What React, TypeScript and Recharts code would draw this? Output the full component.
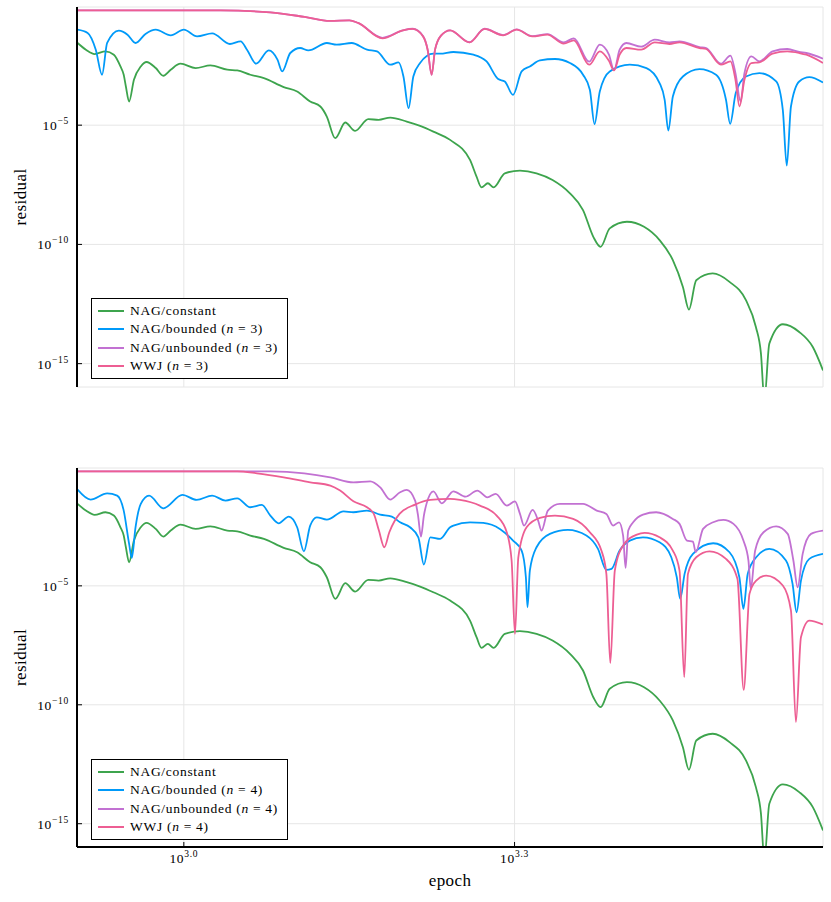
import React from "react";
import { CartesianGrid, Line, LineChart, XAxis, YAxis } from "recharts";

const SERIF = "'Liberation Serif', 'DejaVu Serif', serif";

const GREEN = "#3da44d";
const BLUE = "#009af9";
const PURPLE = "#c271d2";
const PINK = "#ed5e93";

const epochDomain: [number, number] = [800, 3800];
const residualDomain: [number, number] = [1.05e-16, 0.9];
const epochTicks = [1000, 1995.26];
const residualTicks = [1e-15, 1e-10, 1e-5];

// NAG/constant (same run in both panels)
const constantEpoch = [
  801, 815, 830, 849, 864, 876, 882, 886, 892, 901, 914, 925, 943, 958, 973, 993,
  1025, 1057, 1095, 1118, 1149, 1182, 1232, 1267, 1302, 1330, 1348, 1372, 1401,
  1430, 1470, 1502, 1539, 1593, 1638, 1684, 1744, 1818, 1843, 1862, 1887, 1910,
  1955, 2018, 2089, 2160, 2240, 2302, 2352, 2388, 2434, 2523, 2615, 2701, 2777,
  2836, 2872, 2916, 3018, 3126, 3235, 3303, 3338, 3362, 3397, 3494, 3616, 3720, 3800,
];
const constantResidual = [
  0.0279, 0.0146, 9.6e-3, 0.0124, 9.0e-3, 2.9e-3, 1.3e-3, 4.19e-4, 9.8e-5, 8.0e-4,
  2.9e-3, 4.44e-3, 2.48e-3, 1.18e-3, 2.11e-3, 3.77e-3, 2.48e-3, 3.19e-3, 2.11e-3,
  1.97e-3, 1.3e-3, 9.4e-4, 3.95e-4, 2.58e-4, 9.8e-5, 6.05e-5, 2.3e-5, 2.84e-6,
  1.29e-5, 5.77e-6, 1.79e-5, 1.67e-5, 2.08e-5, 1.42e-5, 9.35e-6, 5.38e-6, 2.41e-6,
  3.48e-7, 6.92e-8, 2.48e-8, 3.66e-8, 2.48e-8, 9.6e-8, 1.24e-7, 9.6e-8, 5.03e-8,
  1.39e-8, 2.76e-9, 2.08e-10, 7.92e-11, 4.7e-10, 8.9e-10, 5.48e-10, 1.52e-10,
  2.19e-11, 1.65e-12, 1.86e-13, 3.16e-12, 6.05e-12, 2.69e-12, 4.57e-13, 3.45e-14,
  2.71e-15, 3e-17, 6.92e-15, 4.48e-14, 2.13e-14, 4.98e-15, 5.22e-16,
];

// n = 3
const bounded3Epoch = [
  801, 818, 832, 843, 852, 873, 889, 904, 923, 943, 973, 1000, 1028, 1061, 1101,
  1126, 1141, 1163, 1194, 1216, 1228, 1249, 1275, 1297, 1348, 1376, 1420, 1466,
  1497, 1539, 1566, 1582, 1599, 1615, 1638, 1684, 1708, 1756, 1831, 1882, 1928,
  1955, 1989, 2025, 2060, 2104, 2171, 2240, 2302, 2335, 2358, 2384, 2434, 2538,
  2628, 2701, 2730, 2751, 2777, 2836, 2936, 3039, 3103, 3130, 3167, 3235, 3327,
  3446, 3494, 3523, 3554, 3616, 3693, 3800,
];
const bounded3Residual = [
  0.101, 0.0735, 0.0146, 1.3e-3, 0.0279, 0.0916, 0.0622, 0.0279, 0.0667, 0.101,
  0.0582, 0.101, 0.0528, 0.0706, 0.0253, 0.0326, 0.0146, 3.77e-3, 0.0136, 5.55e-3,
  1.79e-3, 0.0106, 0.0172, 0.0136, 0.0279, 0.0237, 0.0279, 0.0146, 0.0124, 3.42e-3,
  4.27e-3, 1.1e-3, 5.18e-5, 1.1e-3, 4.03e-3, 9.9e-3, 9.9e-3, 0.0117, 9.0e-3, 4.7e-3,
  8.57e-4, 6.79e-4, 1.87e-4, 1.79e-3, 2.9e-3, 5.18e-3, 5.93e-3, 4.03e-3, 1.3e-3,
  3.04e-4, 1.1e-5, 2.58e-4, 1.79e-3, 3.42e-3, 2.48e-3, 5.82e-4, 1.16e-4, 5.93e-6,
  1.59e-4, 1.1e-3, 2.25e-3, 1.3e-3, 1.16e-4, 1.14e-5, 2.21e-4, 1.1e-3, 1.53e-3,
  6.79e-4, 4.4e-5, 2.01e-7, 6.05e-5, 6.79e-4, 1.04e-3, 6.17e-4,
];

const unbounded3Epoch = [
  801, 933, 1080, 1198, 1287, 1357, 1413, 1439, 1514, 1580, 1613, 1648, 1664, 1678,
  1690, 1711, 1744, 1816, 1874, 1948, 2004, 2070, 2137, 2211, 2258, 2332, 2384,
  2430, 2456, 2485, 2520, 2599, 2674, 2758, 2816, 2936, 2977, 3070, 3132, 3165,
  3199, 3225, 3272, 3327, 3420, 3527, 3616, 3670, 3800,
];
const unbounded3Residual = [
  0.65, 0.65, 0.647, 0.538, 0.345, 0.234, 0.248, 0.193, 0.046, 0.0944, 0.11, 0.055,
  0.0146, 1.3e-3, 0.0146, 0.0565, 0.0944, 0.03, 0.11, 0.06, 0.104, 0.054, 0.066,
  0.0296, 0.0436, 4.57e-3, 0.0237, 9.0e-3, 1.97e-3, 0.0146, 0.0279, 0.0195, 0.0384,
  0.0296, 0.0326, 0.0189, 0.017, 3.77e-3, 8.17e-3, 1.5e-3, 9.8e-5, 1.5e-3, 7.62e-3,
  4.7e-3, 0.0124, 0.0156, 0.0117, 0.0106, 6.11e-3,
];

const wwj3Epoch = [
  801, 933, 1080, 1198, 1287, 1357, 1413, 1439, 1514, 1580, 1613, 1648, 1664, 1678,
  1690, 1711, 1744, 1816, 1874, 1948, 2004, 2070, 2137, 2211, 2258, 2332, 2384,
  2430, 2456, 2485, 2520, 2599, 2674, 2758, 2816, 2936, 2977, 3070, 3132, 3165,
  3192, 3225, 3272, 3327, 3420, 3527, 3616, 3670, 3800,
];
const wwj3Residual = [
  0.65, 0.65, 0.647, 0.538, 0.345, 0.234, 0.248, 0.193, 0.0436, 0.0944, 0.108,
  0.0528, 0.0146, 1.3e-3, 0.0146, 0.0565, 0.0944, 0.0296, 0.108, 0.0582, 0.101,
  0.0528, 0.0622, 0.0261, 0.0359, 3.42e-3, 0.0124, 5.0e-3, 1.97e-3, 9.0e-3, 0.0172,
  0.0146, 0.0296, 0.0253, 0.0296, 0.0172, 0.0156, 3.42e-3, 4.7e-3, 8.0e-4, 6.05e-5,
  8.0e-4, 4.03e-3, 4.27e-3, 9.9e-3, 0.0124, 0.0106, 9.0e-3, 4.03e-3,
];

// n = 4
const bounded4Epoch = [
  801, 823, 852, 870, 882, 892, 897, 904, 914, 930, 958, 997, 1027, 1061, 1091,
  1118, 1149, 1177, 1198, 1219, 1245, 1267, 1285, 1302, 1320, 1348, 1396, 1425,
  1466, 1507, 1544, 1571, 1604, 1632, 1651, 1673, 1708, 1744, 1756, 1818, 1869,
  1935, 1989, 2025, 2043, 2050, 2060, 2089, 2148, 2230, 2318, 2375, 2417, 2443,
  2485, 2538, 2609, 2701, 2768, 2800, 2820, 2846, 2896, 3021, 3126, 3191, 3218,
  3247, 3305, 3397, 3517, 3566, 3596, 3629, 3693, 3800,
];
const bounded4Residual = [
  0.111, 0.0423, 0.0778, 0.0622, 0.0146, 5.82e-4, 1.5e-4, 2.9e-3, 0.0279, 0.0622,
  0.0182, 0.0667, 0.041, 0.0622, 0.0384, 0.048, 0.0201, 0.0253, 9.0e-3, 4.27e-3,
  8.17e-3, 2.9e-3, 2.84e-4, 3.42e-3, 7.62e-3, 6.11e-3, 0.0136, 0.0124, 0.0146,
  9.9e-3, 8.17e-3, 4.7e-3, 2.9e-3, 1.1e-3, 7.85e-5, 1.1e-3, 9.4e-4, 2.9e-3, 3.42e-3,
  4.7e-3, 4.44e-3, 2.48e-3, 8.0e-4, 3.04e-4, 2.3e-5, 1.26e-6, 4.4e-5, 4.19e-4,
  1.53e-3, 2.25e-3, 1.3e-3, 3.59e-4, 4.7e-5, 5.18e-5, 3.04e-4, 8.0e-4, 1.1e-3,
  6.79e-4, 1.59e-4, 2.3e-5, 2.84e-6, 3.19e-5, 2.21e-4, 6.17e-4, 2.58e-4, 2.3e-5,
  1.08e-6, 3.19e-5, 1.59e-4, 3.59e-4, 1.16e-4, 1.21e-5, 7.78e-7, 1.67e-5, 1.36e-4,
  2.21e-4,
];

const unbounded4Epoch = [
  801, 1198, 1286, 1358, 1425, 1476, 1507, 1539, 1571, 1593, 1621, 1631, 1641, 1651,
  1660, 1684, 1714, 1756, 1801, 1846, 1885, 1918, 1963, 1997, 2018, 2035, 2072,
  2096, 2111, 2139, 2193, 2302, 2369, 2417, 2451, 2482, 2503, 2516, 2530, 2556,
  2609, 2682, 2777, 2816, 2860, 2896, 2913, 2958, 3021, 3086, 3152, 3218, 3252,
  3268, 3298, 3356, 3446, 3530, 3572, 3604, 3642, 3706, 3800,
];
const unbounded4Residual = [
  0.65, 0.65, 0.538, 0.366, 0.225, 0.248, 0.139, 0.0423, 0.0857, 0.108, 0.0384,
  9.0e-3, 1.18e-3, 9.0e-3, 0.0279, 0.0944, 0.0296, 0.0944, 0.0565, 0.101, 0.0528,
  0.0735, 0.0237, 0.0359, 0.0106, 3.42e-3, 0.0156, 5.55e-3, 2.11e-3, 0.0146, 0.0279,
  0.0279, 0.0146, 0.0106, 3.42e-3, 4.7e-3, 1.3e-3, 5.7e-5, 2.11e-3, 4.7e-3, 9.9e-3,
  0.0124, 6.53e-3, 4.03e-3, 8.0e-4, 7.26e-4, 2.58e-4, 2.48e-3, 4.7e-3, 5.93e-3,
  4.03e-3, 8.0e-4, 1.16e-4, 7.48e-6, 3.04e-4, 1.79e-3, 3.19e-3, 1.53e-3, 1.16e-4,
  8.73e-6, 2.21e-4, 1.53e-3, 2.11e-3,
];

const wwj4Epoch = [
  801, 1118, 1165, 1232, 1302, 1358, 1386, 1425, 1466, 1487, 1503, 1520, 1536, 1569,
  1621, 1673, 1744, 1780, 1856, 1922, 1963, 1983, 1997, 2011, 2046, 2104, 2171,
  2255, 2335, 2392, 2417, 2437, 2460, 2503, 2576, 2618, 2701, 2777, 2816, 2844,
  2866, 2916, 2998, 3103, 3178, 3220, 3259, 3305, 3375, 3494, 3554, 3591, 3629,
  3693, 3800,
];
const wwj4Residual = [
  0.65, 0.65, 0.538, 0.366, 0.225, 0.164, 0.101, 0.0359, 0.0201, 0.0106, 2.11e-3,
  4.19e-4, 1.79e-3, 0.0106, 0.0261, 0.041, 0.0452, 0.041, 0.0237, 9.0e-3, 1.79e-3,
  1.16e-4, 9.6e-8, 1.59e-4, 2.9e-3, 7.2e-3, 9.0e-3, 6.53e-3, 1.79e-3, 3.04e-4,
  3.19e-5, 5.6e-9, 4.4e-5, 4.93e-4, 1.43e-3, 1.69e-3, 1.1e-3, 3.04e-4, 4.4e-5,
  1.45e-9, 3.19e-5, 1.59e-4, 2.84e-4, 1.36e-4, 1.97e-5, 4.27e-10, 4.61e-6, 1.67e-5,
  2.71e-5, 1.03e-5, 9.16e-7, 1.86e-11, 6.92e-8, 3.48e-7, 2.37e-7,
];

type Point = { epoch: number; residual: number };

function toPoints(epochs: number[], residuals: number[]): Point[] {
  return epochs.map((epoch, i) => ({ epoch, residual: residuals[i] }));
}

type Series = { name: string; n?: number; color: string; data: Point[] };

function panelSeries(n: number): Series[] {
  const bounded = n === 3 ? toPoints(bounded3Epoch, bounded3Residual) : toPoints(bounded4Epoch, bounded4Residual);
  const unbounded = n === 3 ? toPoints(unbounded3Epoch, unbounded3Residual) : toPoints(unbounded4Epoch, unbounded4Residual);
  const wwj = n === 3 ? toPoints(wwj3Epoch, wwj3Residual) : toPoints(wwj4Epoch, wwj4Residual);
  return [
    { name: "NAG/constant", color: GREEN, data: toPoints(constantEpoch, constantResidual) },
    { name: "NAG/bounded", n, color: BLUE, data: bounded },
    { name: "NAG/unbounded", n, color: PURPLE, data: unbounded },
    { name: "WWJ", n, color: PINK, data: wwj },
  ];
}

function ResidualTick(props: any) {
  const { x, y, payload } = props;
  const exp = Math.round(Math.log10(payload.value));
  return (
    <g>
      <line x1={x} x2={x + 5} y1={y} y2={y} stroke="#000" strokeWidth={1} />
      <text x={x - 8} y={y + 5} textAnchor="end" fontFamily={SERIF} fontSize={13.5} fill="#000" letterSpacing={0.7}>
        10
        <tspan dy={-6} fontSize={9.5}>{`\u2212${-exp}`}</tspan>
      </text>
    </g>
  );
}

function EpochTick(props: any) {
  const { x, y, payload, showLabel } = props;
  const exp = Math.log10(payload.value).toFixed(1);
  return (
    <g>
      <line x1={x} x2={x} y1={y} y2={y - 5} stroke="#000" strokeWidth={1} />
      {showLabel && (
        <text x={x} y={y + 16} textAnchor="middle" fontFamily={SERIF} fontSize={13.5} fill="#000" letterSpacing={0.7}>
          10
          <tspan dy={-6} fontSize={9.5}>{exp}</tspan>
        </text>
      )}
    </g>
  );
}

function ResidualTitle(props: any) {
  const vb = props.viewBox || { y: 7, height: 380 };
  const cy = vb.y + vb.height / 2;
  return (
    <text x={26} y={cy} transform={`rotate(-90 26 ${cy})`} textAnchor="middle" fontFamily={SERIF} fontSize={17} fill="#000" letterSpacing={0.4}>
      residual
    </text>
  );
}

function EpochTitle(props: any) {
  const vb = props.viewBox || { x: 77, y: 847, width: 746 };
  return (
    <text x={vb.x + vb.width / 2} y={vb.y + 39} textAnchor="middle" fontFamily={SERIF} fontSize={17} fill="#000" letterSpacing={0.4}>
      epoch
    </text>
  );
}

function SeriesLegend({ series, top }: { series: Series[]; top: number }) {
  return (
    <div
      style={{
        position: "absolute",
        left: 91,
        top,
        width: 197,
        height: 81,
        boxSizing: "border-box",
        border: "1.6px solid #000",
        background: "#fff",
        fontFamily: SERIF,
        fontSize: 13.5,
        letterSpacing: 0.7,
        color: "#000",
      }}
    >
      {series.map((s, i) => (
        <div
          key={s.name}
          style={{ position: "absolute", left: 5, top: 3 + i * 18.3, height: 18, display: "flex", alignItems: "center", whiteSpace: "nowrap" }}
        >
          <svg width={28} height={4} style={{ display: "block" }}>
            <line x1={1} x2={27} y1={2} y2={2} stroke={s.color} strokeWidth={2} />
          </svg>
          <span style={{ marginLeft: 5 }}>
            {s.name}
            {s.n !== undefined && (
              <>
                {" ("}
                <i>n</i>
                {` = ${s.n})`}
              </>
            )}
          </span>
        </div>
      ))}
    </div>
  );
}

function Panel({ n, top, height, withEpochLabels }: { n: number; top: number; height: number; withEpochLabels: boolean }) {
  const series = panelSeries(n);
  return (
    <div style={{ position: "absolute", left: 0, top, width: 831, height }}>
      <LineChart width={831} height={height} margin={{ top: 7, right: 8, bottom: withEpochLabels ? 0 : 13, left: 0 }}>
        <CartesianGrid stroke="#e6e6e6" strokeWidth={1} />
        <XAxis
          dataKey="epoch"
          type="number"
          scale="log"
          domain={epochDomain}
          ticks={epochTicks}
          allowDataOverflow
          height={withEpochLabels ? 54 : 0}
          tickSize={0}
          tickMargin={0}
          tickLine={false}
          axisLine={{ stroke: "#000", strokeWidth: 2 }}
          tick={<EpochTick showLabel={withEpochLabels} />}
          label={withEpochLabels ? <EpochTitle /> : undefined}
        />
        <YAxis
          dataKey="residual"
          type="number"
          scale="log"
          domain={residualDomain}
          ticks={residualTicks}
          allowDataOverflow
          width={77}
          tickSize={0}
          tickMargin={0}
          tickLine={false}
          axisLine={{ stroke: "#000", strokeWidth: 2 }}
          tick={<ResidualTick />}
          label={<ResidualTitle />}
        />
        {series.map((s) => (
          <Line
            key={s.name}
            name={s.name}
            data={s.data}
            dataKey="residual"
            type="monotone"
            stroke={s.color}
            strokeWidth={1.8}
            dot={false}
            activeDot={false}
            isAnimationActive={false}
          />
        ))}
      </LineChart>
      <SeriesLegend series={series} top={298} />
    </div>
  );
}

export default function App() {
  return (
    <div style={{ position: "absolute", left: 0, top: 0, width: 831, height: 902, background: "#fff" }}>
      <Panel n={3} top={0} height={400} withEpochLabels={false} />
      <Panel n={4} top={461} height={440} withEpochLabels />
    </div>
  );
}
